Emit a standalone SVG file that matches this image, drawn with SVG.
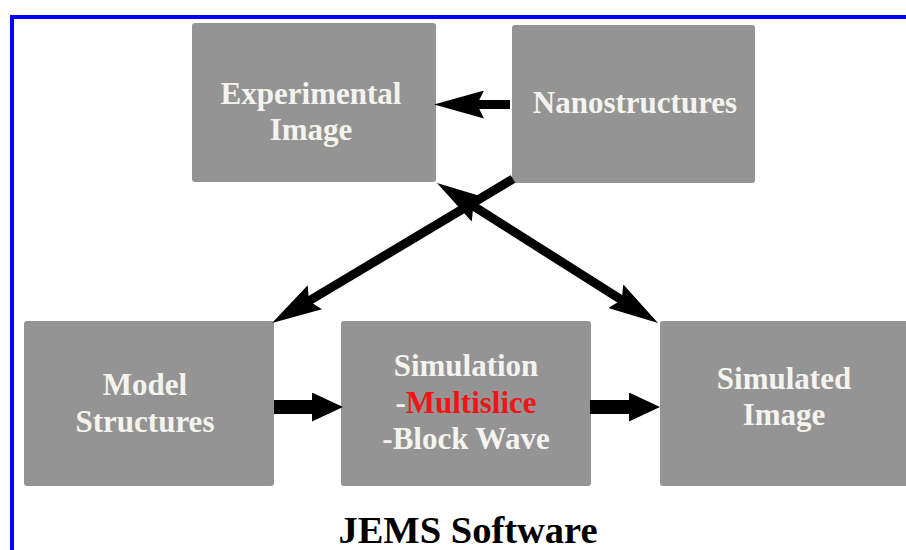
<svg xmlns="http://www.w3.org/2000/svg" width="906" height="550" viewBox="0 0 906 550">
<style>
.box{fill:#949494;}
.lbl{font-family:"Liberation Serif","Times New Roman",serif;font-weight:bold;font-size:31px;fill:#f5f3ee;text-anchor:middle;}
.red{fill:#f01414;}
.ttl{font-family:"Liberation Serif","Times New Roman",serif;font-weight:bold;font-size:38.5px;fill:#000;text-anchor:middle;}
.thin{stroke:#000;stroke-width:9;fill:none;}
.fat{stroke:#000;stroke-width:14;fill:none;}
</style>
<defs>
<marker id="barb" markerUnits="userSpaceOnUse" viewBox="0 0 50 28" markerWidth="50" markerHeight="28" refX="14" refY="14" orient="auto-start-reverse">
<path d="M50,14 L0,0 L7,14 L0,28 Z" fill="#000"/>
</marker>
<marker id="tri" markerUnits="userSpaceOnUse" viewBox="0 0 31 29" markerWidth="31" markerHeight="29" refX="3" refY="14.5" orient="auto">
<path d="M31,14.5 L0,0 L0,29 Z" fill="#000"/>
</marker>
</defs>
<rect x="12" y="17" width="900" height="540" fill="none" stroke="#0000ff" stroke-width="4"/>
<g id="experimental-image">
<rect class="box" x="192" y="23" width="244" height="159" rx="3"/>
<text class="lbl" x="311" y="104">Experimental</text>
<text class="lbl" x="311" y="140">Image</text>
</g>
<g id="nanostructures">
<rect class="box" x="512" y="25" width="243" height="158" rx="3"/>
<text class="lbl" x="635" y="113">Nanostructures</text>
</g>
<g id="model-structures">
<rect class="box" x="24" y="321" width="250" height="165" rx="3"/>
<text class="lbl" x="145" y="395">Model</text>
<text class="lbl" x="145" y="432">Structures</text>
</g>
<g id="simulation">
<rect class="box" x="341" y="321" width="250" height="165" rx="3"/>
<text class="lbl" x="466" y="376">Simulation</text>
<text class="lbl" x="466" y="413">-<tspan class="red">Multislice</tspan></text>
<text class="lbl" x="466" y="449">-Block Wave</text>
</g>
<g id="simulated-image">
<rect class="box" x="660" y="321" width="252" height="165" rx="3"/>
<text class="lbl" x="784" y="389">Simulated</text>
<text class="lbl" x="784" y="425">Image</text>
</g>
<g id="connectors">
<line class="thin" x1="510" y1="104.5" x2="470" y2="104.5" marker-end="url(#barb)"/>
<line class="thin" x1="513" y1="179" x2="302.9" y2="304.5" marker-end="url(#barb)"/>
<line class="thin" x1="467.4" y1="202.3" x2="627.6" y2="303.7" marker-start="url(#barb)" marker-end="url(#barb)"/>
<line class="fat" x1="274" y1="407" x2="315" y2="407" marker-end="url(#tri)"/>
<line class="fat" x1="590" y1="407" x2="632" y2="407" marker-end="url(#tri)"/>
</g>
<text class="ttl" x="468" y="543">JEMS Software</text>
</svg>
